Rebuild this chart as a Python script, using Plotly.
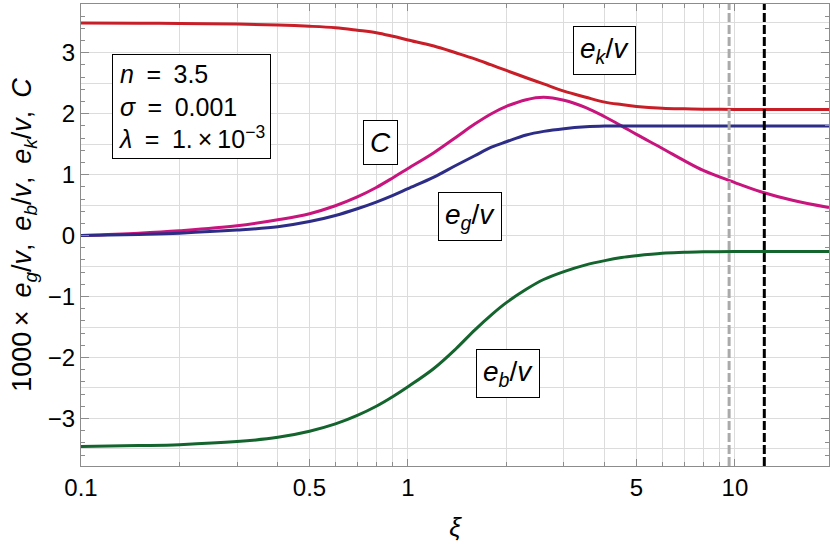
import numpy as np
import plotly.graph_objects as go

# ---- data (xi values, 1000 x quantity) ----
xi = [0.1, 0.15, 0.2, 0.3, 0.4, 0.5, 0.6, 0.7, 0.8, 0.9, 1.0, 1.2, 1.4, 1.6, 1.8, 2.0,
      2.3, 2.6, 3.0, 3.5, 4.0, 4.5, 5.0, 6.0, 7.0, 8.0, 10.0, 12.0, 15.0, 19.4]

ek = [3.49, 3.485, 3.48, 3.47, 3.455, 3.435, 3.41, 3.37, 3.33, 3.27, 3.21, 3.11, 3.00, 2.90, 2.80, 2.71,
      2.59, 2.49, 2.37, 2.27, 2.19, 2.15, 2.12, 2.09, 2.08, 2.075, 2.07, 2.07, 2.07, 2.07]

eg = [0.0, 0.02, 0.04, 0.09, 0.145, 0.23, 0.33, 0.44, 0.55, 0.66, 0.77, 0.96, 1.15, 1.31, 1.45, 1.54,
      1.65, 1.71, 1.755, 1.785, 1.797, 1.80, 1.80, 1.80, 1.80, 1.80, 1.80, 1.80, 1.80, 1.80]

eb = [-3.46, -3.445, -3.43, -3.38, -3.31, -3.21, -3.09, -2.95, -2.80, -2.64, -2.48, -2.18, -1.86, -1.55, -1.30, -1.10,
      -0.88, -0.72, -0.59, -0.48, -0.41, -0.36, -0.33, -0.29, -0.275, -0.265, -0.26, -0.26, -0.26, -0.26]

c = [0.0, 0.04, 0.08, 0.16, 0.26, 0.36, 0.49, 0.635, 0.79, 0.95, 1.10, 1.36, 1.61, 1.83, 2.00, 2.12,
     2.23, 2.27, 2.22, 2.10, 1.95, 1.80, 1.66, 1.43, 1.23, 1.07, 0.87, 0.72, 0.58, 0.46]

vline_xi = [9.6, 12.3]

x_ticks = [0.1, 0.5, 1, 5, 10]
x_ticktext = ["0.1", "0.5", "1", "5", "10"]
x_grid = [0.2, 0.3, 0.4, 0.6, 0.7, 0.8, 0.9, 2, 3, 4, 6, 7, 8, 9, 20]
y_ticks = [-3, -2, -1, 0, 1, 2, 3]
y_grid = [-3.5, -2.5, -1.5, -0.5, 0.5, 1.5, 2.5, 3.5]

x_range = [0.1, 19.4]
y_range = [-3.78, 3.80]

# label boxes: (xi, value, text)
labels = [
    (0.824, 1.525, "<i>C</i>"),
    (4.0, 3.04, "<i>e<sub>k</sub></i>/<i>v</i>"),
    (1.55, 0.315, "<i>e<sub>g</sub></i>/<i>v</i>"),
    (2.02, -2.27, "<i>e<sub>b</sub></i>/<i>v</i>"),
]
param_lines = ["<i>n</i>\u2002=\u20023.5", "<i>σ</i>\u2002=\u20020.001",
               "<i>λ</i>\u2002=\u20021.\u2009×\u200910<sup>−3</sup>"]
param_pos = (0.1245, 2.975)

FONT = "Liberation Sans"

fig = go.Figure()

series = [
    (ek, "#C81E28"),
    (c, "#C8147D"),
    (eg, "#2D2D87"),
    (eb, "#14642D"),
]
for ys, col in series:
    fig.add_trace(go.Scatter(x=xi, y=ys, mode="lines",
                             line=dict(color=col, width=3, shape="spline", smoothing=1.0),
                             showlegend=False, hoverinfo="skip"))

vcols = ["#AAAAAA", "#000000"]
for v, col in zip(vline_xi, vcols):
    fig.add_trace(go.Scatter(x=[v, v], y=y_range, mode="lines",
                             line=dict(color=col, width=3, dash="9px,3px"),
                             showlegend=False, hoverinfo="skip"))

# overlay axis for longer integer ticks
fig.add_trace(go.Scatter(x=[None], y=[None], yaxis="y2", showlegend=False, hoverinfo="skip"))

for lx, ly, txt in labels:
    fig.add_annotation(x=np.log10(lx), y=ly, xref="x", yref="y", text=txt,
                       showarrow=False, font=dict(family=FONT, size=28, color="black"),
                       bgcolor="white", bordercolor="black", borderwidth=1, borderpad=6)

fig.add_annotation(x=np.log10(param_pos[0]), y=param_pos[1], xref="x", yref="y",
                   xanchor="left", yanchor="top",
                   text="<br>".join(param_lines), align="left", showarrow=False,
                   font=dict(family=FONT, size=25, color="black"),
                   bgcolor="white", bordercolor="black", borderwidth=1, borderpad=5)

axis_col = "#8C8C8C"
grid_col = "#DCDCDC"

fig.update_layout(
    width=830, height=548,
    margin=dict(l=81, r=1, t=4, b=82),
    paper_bgcolor="white", plot_bgcolor="white",
    font=dict(family=FONT, size=24, color="black"),
    xaxis=dict(type="log", range=[np.log10(x_range[0]), np.log10(x_range[1])],
               automargin=False,
               tickmode="array", tickvals=x_ticks, ticktext=x_ticktext,
               showgrid=True, gridcolor=grid_col, gridwidth=1,
               ticks="inside", ticklen=7, tickcolor=axis_col,
               showline=True, linecolor=axis_col, linewidth=1, mirror="ticks",
               zeroline=False,
               minor=dict(tickmode="array", tickvals=x_grid, showgrid=True,
                          gridcolor=grid_col, gridwidth=1, ticks="inside", ticklen=4,
                          tickcolor=axis_col),
               tickfont=dict(size=24),
               title=dict(text="<i>ξ</i>", font=dict(size=26), standoff=18)),
    yaxis=dict(range=y_range, automargin=False,
               tickmode="array", tickvals=y_ticks + y_grid,
               ticktext=[str(t) if t >= 0 else "−" + str(-t) for t in y_ticks] + [""] * len(y_grid),
               showgrid=True, gridcolor=grid_col, gridwidth=1,
               ticks="inside", ticklen=0, tickcolor=axis_col,
               showline=True, linecolor=axis_col, linewidth=1, mirror="ticks",
               zeroline=False,
               minor=dict(dtick=0.2, tick0=0, showgrid=False, ticks="inside", ticklen=4,
                          tickcolor=axis_col),
               tickfont=dict(size=24),
               title=dict(text="1000\u2009×\u2009 <i>e<sub>g</sub></i>/<i>v</i>,\u2009 <i>e<sub>b</sub></i>/<i>v</i>,\u2009 "
                               "<i>e<sub>k</sub></i>/<i>v</i>,\u2009 <i>C</i>",
                          font=dict(size=27), standoff=8)),
    yaxis2=dict(range=y_range, overlaying="y", side="left", tickmode="array", tickvals=y_ticks,
                showticklabels=False, showgrid=False, zeroline=False, automargin=False,
                ticks="inside", ticklen=8, tickcolor=axis_col, mirror="ticks",
                showline=False),
)

fig.write_html("out.html", config={"displayModeBar": False},
               post_script="document.body.style.margin='0';")
